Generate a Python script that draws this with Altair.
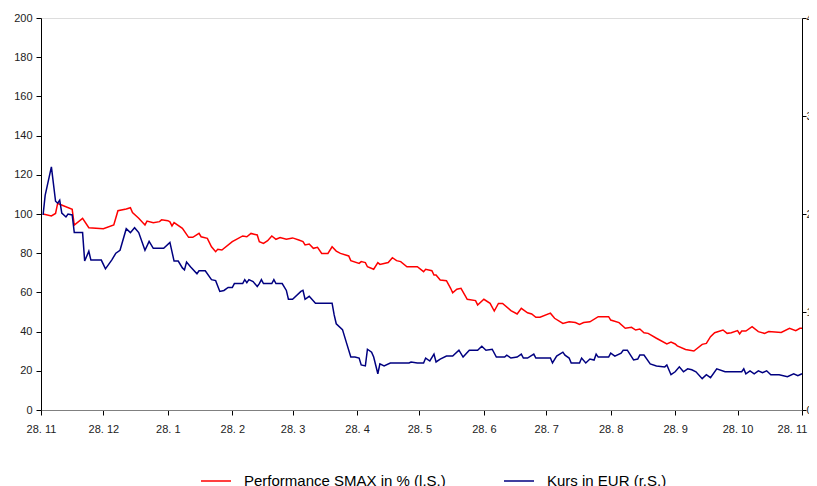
import altair as alt
import pandas as pd

START = pd.Timestamp("2007-11-28")

# Performance SMAX in % (left scale) : day offset since 28.11 and value
red_day = [1, 5, 7, 8, 9, 15, 16, 20, 23, 30, 35, 37, 41, 43, 44, 47, 50, 51, 54, 57, 58, 61,
           62, 63, 64, 68, 71, 73, 76, 77, 80, 82, 84, 85, 87, 92, 94, 97, 99, 101, 104, 105,
           107, 109, 111, 113, 115, 118, 121, 124, 126, 127, 129, 131, 133, 135, 138, 140, 142,
           144, 148, 149, 153, 154, 156, 157, 160, 162, 163, 167, 169, 171, 173, 176, 181, 184,
           185, 188, 189, 190, 192, 195, 197, 198, 200, 202, 205, 209, 210, 213, 216, 218, 220,
           222, 226, 229, 231, 234, 236, 238, 240, 245, 247, 251, 254, 257, 259, 261, 264, 268,
           273, 274, 278, 281, 284, 286, 288, 290, 292, 296, 301, 303, 305, 306, 310, 314, 318,
           320, 322, 324, 328, 330, 332, 335, 336, 337, 339, 342, 345, 348, 350, 356, 360, 363,
           365, 366]
red_val = [100, 99, 100.3, 105.4, 105, 102.4, 94.4, 97.8, 93, 92.5, 94.4, 101.7, 102.6, 103.2,
           100.7, 97.8, 94.4, 96.4, 95.6, 96.1, 97, 96.6, 96, 93.9, 95.6, 92.7, 88.1, 88.1, 90.1,
           88.4, 87.6, 83.3, 80.8, 82, 81.6, 85.9, 87.1, 88.8, 88.4, 90.1, 89.3, 85.9, 85, 86.4,
           88.8, 87.1, 88, 87.1, 87.8, 86.7, 85.9, 84.2, 84.7, 82.5, 83, 79.9, 79.9, 83.3, 81.1,
           79.9, 78.6, 76.2, 74.8, 75.7, 75.2, 73.1, 71.8, 75.2, 74.3, 75.2, 77.7, 76.2, 75.7,
           73.1, 73.1, 70.6, 71.8, 71.1, 68.9, 68.9, 66.3, 66, 62.1, 59.8, 61.6, 62.1, 56.5, 55.8,
           53.6, 56.5, 54.4, 50.5, 54.4, 54.4, 50.7, 49, 51.9, 49.6, 49, 47.3, 47.3, 49.4, 46.8,
           44.2, 45, 44.6, 43.7, 44.6, 45, 47.6, 47.6, 45.9, 44.6, 41.7, 42.2, 40.8, 41.3, 39.4,
           39.1, 36.6, 33.7, 34.6, 33.7, 32.7, 30.9, 30.1, 33.5, 34, 37.4, 39.4, 40.8, 39.1, 39.4,
           40.5, 38.8, 40.3, 40.3, 42.5, 40, 39.1, 40, 39.6, 41.7, 40.5, 41.7, 41.7]

# Kurs in EUR (right scale)
blue_day = [1, 2, 5, 7, 8, 9, 10, 12, 13, 15, 16, 20, 21, 23, 24, 29, 31, 34, 36, 38, 41, 43,
            45, 47, 50, 52, 54, 59, 62, 64, 66, 68, 69, 70, 72, 75, 76, 79, 82, 84, 86, 88, 90,
            92, 93, 97, 98, 99, 100, 102, 104, 105, 106, 107, 111, 112, 113, 116, 118, 119, 121,
            125, 126, 127, 129, 132, 140, 141, 142, 145, 147, 149, 151, 153, 154, 156, 157, 159,
            160, 162, 163, 165, 168, 177, 178, 181, 184, 185, 187, 189, 190, 192, 195, 198, 201,
            203, 206, 210, 212, 214, 217, 219, 223, 224, 226, 229, 231, 232, 234, 237, 238, 242,
            244, 245, 246, 248, 251, 252, 254, 255, 259, 260, 262, 264, 266, 267, 268, 273, 274,
            276, 279, 280, 282, 285, 287, 288, 290, 293, 296, 300, 301, 303, 305, 307, 309, 311,
            313, 315, 318, 320, 322, 325, 329, 337, 338, 339, 341, 343, 345, 347, 349, 351, 355,
            359, 362, 364, 366]
blue_val = [1.99, 2.19, 2.48, 2.13, 2.11, 2.14, 2.01, 1.97, 2.00, 1.99, 1.81, 1.81, 1.52, 1.62,
            1.53, 1.53, 1.44, 1.53, 1.60, 1.63, 1.85, 1.81, 1.86, 1.81, 1.63, 1.72, 1.65, 1.65,
            1.71, 1.52, 1.52, 1.45, 1.43, 1.51, 1.46, 1.39, 1.42, 1.42, 1.33, 1.32, 1.21, 1.22,
            1.25, 1.25, 1.29, 1.29, 1.33, 1.30, 1.33, 1.31, 1.26, 1.29, 1.33, 1.29, 1.29, 1.33,
            1.29, 1.29, 1.22, 1.13, 1.13, 1.21, 1.22, 1.13, 1.16, 1.09, 1.09, 0.97, 0.88, 0.82,
            0.68, 0.54, 0.54, 0.53, 0.46, 0.45, 0.62, 0.59, 0.54, 0.37, 0.47, 0.45, 0.48, 0.48,
            0.49, 0.48, 0.48, 0.53, 0.50, 0.57, 0.49, 0.52, 0.55, 0.55, 0.61, 0.54, 0.61, 0.61,
            0.65, 0.61, 0.62, 0.54, 0.54, 0.56, 0.53, 0.54, 0.57, 0.53, 0.53, 0.57, 0.53, 0.53,
            0.53, 0.53, 0.48, 0.55, 0.59, 0.56, 0.53, 0.48, 0.48, 0.53, 0.48, 0.52, 0.51, 0.57,
            0.54, 0.54, 0.58, 0.55, 0.58, 0.61, 0.61, 0.51, 0.52, 0.56, 0.56, 0.47, 0.45, 0.44,
            0.46, 0.36, 0.39, 0.44, 0.39, 0.42, 0.41, 0.39, 0.32, 0.36, 0.33, 0.42, 0.39, 0.39,
            0.42, 0.37, 0.40, 0.37, 0.40, 0.38, 0.40, 0.36, 0.36, 0.34, 0.37, 0.35, 0.37]

series_names = ["Performance SMAX in % (l.S.)", "Kurs in EUR (r.S.)"]
series_colors = ["#ff0000", "#000080"]
tick_months = [(2007, 11), (2007, 12), (2008, 1), (2008, 2), (2008, 3), (2008, 4), (2008, 5),
               (2008, 6), (2008, 7), (2008, 8), (2008, 9), (2008, 10), (2008, 11)]

red_df = pd.DataFrame({
    "date": START + pd.to_timedelta(red_day, unit="D"),
    "value": red_val,
    "series": series_names[0],
})
blue_df = pd.DataFrame({
    "date": START + pd.to_timedelta(blue_day, unit="D"),
    "eur": blue_val,
    "series": series_names[1],
})

FONT = "Liberation Sans"
tick_vals = [alt.DateTime(year=y, month=m, date=28) for y, m in tick_months]

x_enc = alt.X(
    "date:T",
    scale=alt.Scale(domain=[alt.DateTime(year=2007, month=11, date=28),
                            alt.DateTime(year=2008, month=11, date=28)]),
    axis=alt.Axis(values=tick_vals, format="%d. %-m", title=None, labelAngle=0,
                  grid=False, domainColor="#808080", tickColor="black", tickSize=5,
                  labelFont=FONT, labelFontSize=11, labelColor="#222222", labelPadding=8,
                  labelFlush=False, labelOverlap=False,
                  labelOffset={"condition": {"test": "datum.value > 1227000000000", "value": -10},
                               "value": 0}),
)

color_enc = alt.Color(
    "series:N",
    scale=alt.Scale(domain=series_names, range=series_colors),
    sort=series_names,
    legend=alt.Legend(orient="none", legendX=159, legendY=447, direction="horizontal",
                      title=None, symbolType="stroke", symbolSize=900, symbolStrokeWidth=1.5,
                      labelFont=FONT, labelFontSize=15, labelColor="black", labelOffset=12,
                      columnPadding=55, labelLimit=400),
)

red = alt.Chart(red_df).mark_line(strokeWidth=1.5).encode(
    x=x_enc,
    y=alt.Y("value:Q", scale=alt.Scale(domain=[0, 200], nice=False),
            axis=alt.Axis(orient="left", values=list(range(0, 201, 20)), title=None, grid=False,
                          domainColor="black", tickColor="black", tickSize=5,
                          labelFont=FONT, labelFontSize=11, labelColor="#222222",
                          labelPadding=4)),
    color=color_enc,
)

blue = alt.Chart(blue_df).mark_line(strokeWidth=1.5).encode(
    x=x_enc,
    y=alt.Y("eur:Q", scale=alt.Scale(domain=[0, 4], nice=False),
            axis=alt.Axis(orient="right", values=[0, 1, 2, 3, 4], title=None, grid=False,
                          domainColor="black", tickColor="black", tickSize=4,
                          labelFont=FONT, labelFontSize=11, labelColor="#222222",
                          labelPadding=0)),
    color=color_enc,
)

chart = alt.layer(red, blue).resolve_scale(y="independent").properties(
    width=761,
    height=392,
    autosize=alt.AutoSizeParams(type="none"),
    padding={"left": 33, "top": 10, "right": 7, "bottom": 76},
).configure_view(stroke=None).configure(background="white")

chart.save("out.html", embed_options={"renderer": "svg", "actions": False})
